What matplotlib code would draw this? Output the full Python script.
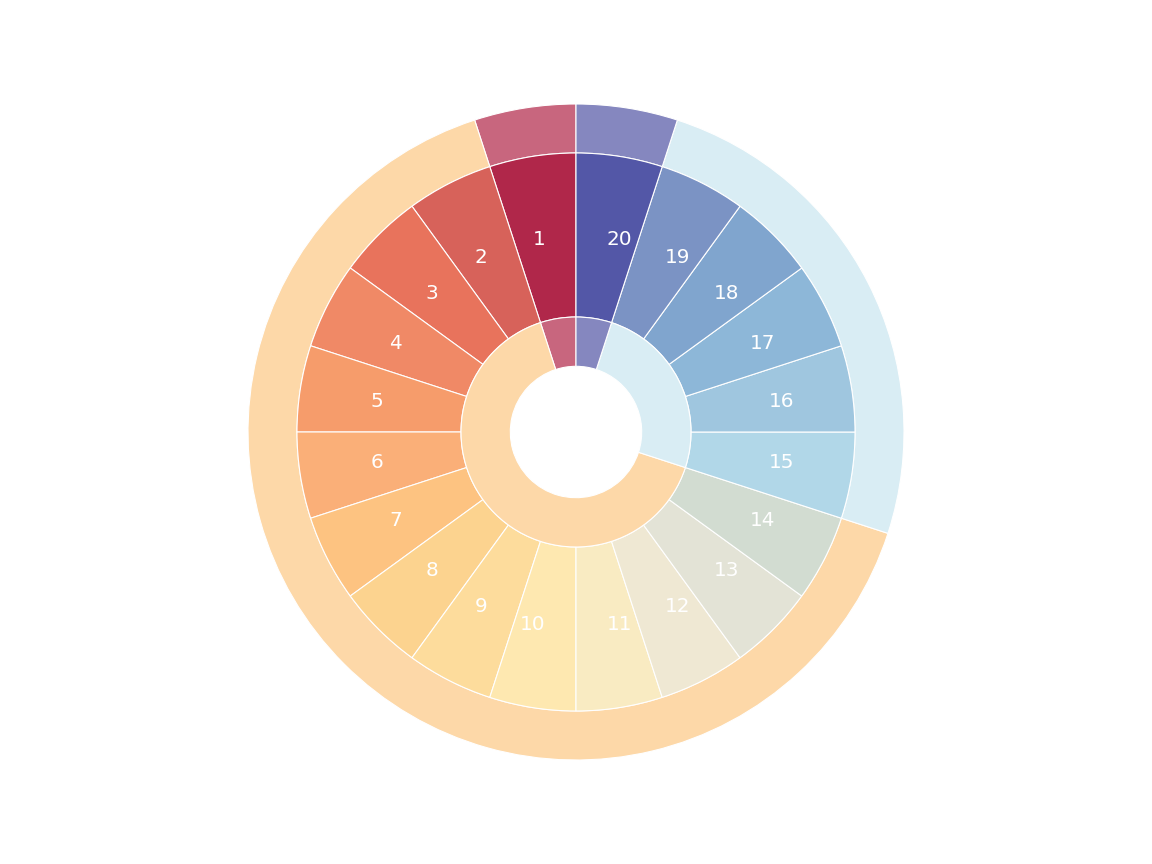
import matplotlib
matplotlib.use("Agg")
import matplotlib.pyplot as plt

# Middle ring: 20 equal slices labelled 1..20
mid_labels = [str(i) for i in range(1, 21)]
mid_values = [1] * 20
mid_colors = ["#b0274a", "#d7625a", "#e8735c", "#f08966", "#f69c6b",
              "#faaf78", "#fdc381", "#fcd38f", "#fddc9c", "#fee8b0",
              "#f9ebc2", "#efe8d3", "#e3e3d6", "#d2dcd1", "#b1d7e8",
              "#9fc6df", "#8db7d8", "#80a5ce", "#7b93c4", "#5357a7"]

# Outer and inner rings: grouped slices
group_values = [1, 13, 5, 1]
group_colors = ["#c8667e", "#fdd8a8", "#d9edf4", "#8587bf"]

fig = plt.figure(figsize=(8, 6), dpi=144)
ax = fig.add_axes([0, 0, 1, 1])

scale = 328.0
r_outer = 1.0
r_mid_out = 279.0 / scale
r_mid_in = 115.0 / scale
r_in_in = 65.7 / scale

wp = dict(edgecolor="white", linewidth=0.55)

ax.pie(group_values, colors=group_colors, radius=r_outer, startangle=90,
       counterclock=True, wedgeprops=dict(width=r_outer - r_mid_out, **wp))
ax.pie(mid_values, colors=mid_colors, radius=r_mid_out, startangle=90,
       counterclock=True, labels=mid_labels, labeldistance=0.7,
       textprops=dict(color="white", fontsize=10),
       wedgeprops=dict(width=r_mid_out - r_mid_in, **wp))
ax.pie(group_values, colors=group_colors, radius=r_mid_in, startangle=90,
       counterclock=True, wedgeprops=dict(width=r_mid_in - r_in_in, **wp))

ax.set_aspect("equal")
ax.set_xlim(-576 / scale, 576 / scale)
ax.set_ylim(-432 / scale, 432 / scale)
ax.set_axis_off()

fig.savefig("out.png", dpi=144)
